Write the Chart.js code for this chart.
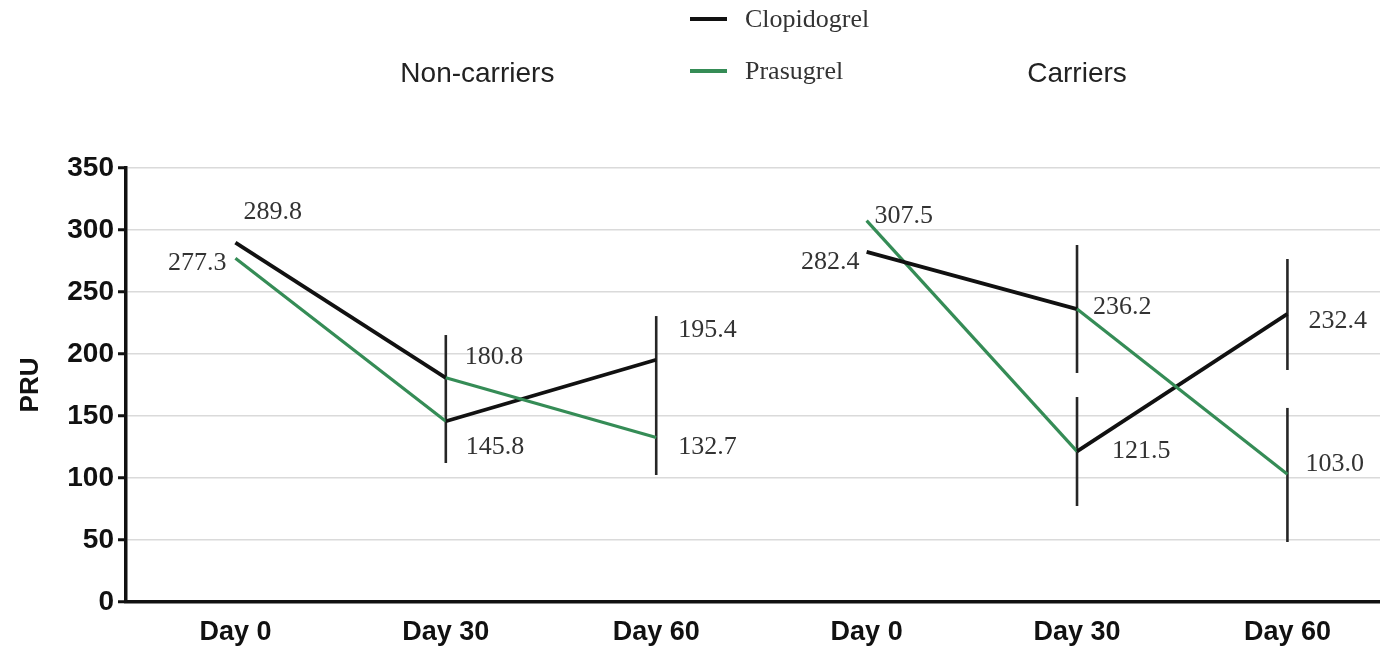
<!DOCTYPE html>
<html>
<head>
<meta charset="utf-8">
<script src="https://cdn.jsdelivr.net/npm/chart.js@4.4.1/dist/chart.umd.min.js"></script>
<style>
  html, body { margin: 0; padding: 0; background: #ffffff; }
  #wrap { width: 1380px; height: 648px; }
</style>
</head>
<body>
<div id="wrap"><canvas id="chart" width="1380" height="648"></canvas></div>
<script>
// Time points, two patient groups side by side
const days = ['Day 0', 'Day 30', 'Day 60', 'Day 0', 'Day 30', 'Day 60'];
const groups = ['Non-carriers', 'Carriers'];

// Series shown in the legend
const seriesNames = ['Clopidogrel', 'Prasugrel'];
const seriesColors = ['#111111', '#358c56'];

// PRU values along each drawn trace (Day 0, Day 30, Day 60 for each group).
// A trace keeps its colour from Day 0 to Day 30 and switches series for Day 30 to Day 60.
const traceA = [289.8, 180.8, 132.7, 282.4, 236.2, 103.0];
const traceB = [277.3, 145.8, 195.4, 307.5, 121.5, 232.4];
const traceASeries = ['Clopidogrel', 'Prasugrel'];
const traceBSeries = ['Prasugrel', 'Clopidogrel'];

// Vertical error bars (time-point index, low, high)
const errorBarAt = [1, 2, 4, 4, 5, 5];
const errorBarLow = [112.1, 102.4, 184.7, 77.4, 187.1, 48.4];
const errorBarHigh = [215.3, 230.6, 287.9, 165.3, 276.6, 156.5];

// Y axis
const yMin = 0, yMax = 350, yStep = 50;

// Value label placement (pixel offset from the point, text alignment)
const labelStyleA = [[8, -30, 'left'], [19, -21, 'left'], [22, 10, 'left'], [-7, 10, 'right'], [16, -2, 'left'], [18, -10, 'left']];
const labelStyleB = [[-9, 5, 'right'], [20, 26, 'left'], [22, -30, 'left'], [8, -5, 'left'], [35, 0, 'left'], [21, 7, 'left']];
const groupTitleAt = [1.15, 4.0];

function colorOf(name) { return seriesColors[seriesNames.indexOf(name)]; }

function traceDataset(values, legs) {
  return {
    data: values.map((v, i) => ({ x: i, y: v })),
    pointRadius: 0,
    pointHoverRadius: 0,
    tension: 0,
    borderColor: colorOf(legs[0]),
    borderWidth: 3.5,
    borderJoinStyle: 'miter',
    segment: {
      borderColor: ctx => {
        const leg = ctx.p0DataIndex % 3;
        return leg === 2 ? 'rgba(0,0,0,0)' : colorOf(legs[leg]);
      },
      borderWidth: ctx => {
        const leg = ctx.p0DataIndex % 3;
        return leg === 2 ? 0 : (legs[leg] === 'Clopidogrel' ? 3.8 : 3.2);
      }
    }
  };
}

const decorations = {
  id: 'decorations',
  beforeDatasetsDraw(chart) {
    const { ctx, scales: { x, y } } = chart;
    ctx.save();
    ctx.strokeStyle = '#262626';
    ctx.lineWidth = 2.6;
    errorBarAt.forEach((d, i) => {
      const px = x.getPixelForValue(d);
      ctx.beginPath();
      ctx.moveTo(px, y.getPixelForValue(errorBarLow[i]));
      ctx.lineTo(px, y.getPixelForValue(errorBarHigh[i]));
      ctx.stroke();
    });
    ctx.restore();
  },
  afterDatasetsDraw(chart) {
    const { ctx, scales: { x, y } } = chart;
    ctx.save();

    // Value labels next to the points
    ctx.font = '26px "Liberation Serif", "Times New Roman", serif';
    ctx.fillStyle = '#333333';
    ctx.textBaseline = 'middle';
    const drawLabels = (values, styles) => {
      values.forEach((v, i) => {
        const [dx, dy, align] = styles[i];
        ctx.textAlign = align;
        ctx.fillText(v.toFixed(1), x.getPixelForValue(i) + dx, y.getPixelForValue(v) + dy);
      });
    };
    drawLabels(traceA, labelStyleA);
    drawLabels(traceB, labelStyleB);

    // Group titles
    ctx.font = '28px "Liberation Sans", Arial, sans-serif';
    ctx.fillStyle = '#222222';
    ctx.textAlign = 'center';
    groups.forEach((g, i) => {
      ctx.fillText(g, x.getPixelForValue(groupTitleAt[i]), 74);
    });

    // Legend
    const legendRows = [19, 71];
    seriesNames.forEach((name, i) => {
      ctx.strokeStyle = seriesColors[i];
      ctx.lineWidth = 4;
      ctx.beginPath();
      ctx.moveTo(690, legendRows[i]);
      ctx.lineTo(727, legendRows[i]);
      ctx.stroke();
      ctx.font = '26px "Liberation Serif", "Times New Roman", serif';
      ctx.fillStyle = '#333333';
      ctx.textAlign = 'left';
      ctx.fillText(name, 745, legendRows[i] + 1);
    });

    ctx.restore();
  }
};

new Chart(document.getElementById('chart'), {
  type: 'line',
  data: {
    datasets: [traceDataset(traceA, traceASeries), traceDataset(traceB, traceBSeries)]
  },
  options: {
    responsive: false,
    animation: false,
    devicePixelRatio: 1,
    layout: { padding: { top: 168, right: 0, bottom: 0, left: 0 } },
    plugins: { legend: { display: false }, tooltip: { enabled: false } },
    scales: {
      x: {
        type: 'linear',
        min: -0.52,
        max: 5.44,
        afterBuildTicks: scale => { scale.ticks = days.map((_, i) => ({ value: i })); },
        afterFit: scale => { scale.height = 46; },
        grid: { display: false, drawTicks: false },
        border: { display: true, color: '#111111', width: 3.5 },
        ticks: {
          autoSkip: false,
          maxRotation: 0,
          padding: 14,
          color: '#111111',
          font: { family: '"Liberation Sans", Arial, sans-serif', size: 27, weight: 'bold' },
          callback: value => days[Math.round(value)]
        }
      },
      y: {
        min: yMin,
        max: yMax,
        afterFit: scale => { scale.width = 126; },
        grid: {
          color: '#dadada',
          lineWidth: 1.5,
          drawTicks: true,
          tickLength: 8,
          tickColor: '#111111',
          tickWidth: 3
        },
        border: { display: true, color: '#111111', width: 3.5 },
        ticks: {
          stepSize: yStep,
          padding: 4,
          color: '#111111',
          font: { family: '"Liberation Sans", Arial, sans-serif', size: 28, weight: 'bold' }
        },
        title: {
          display: true,
          text: 'PRU',
          color: '#111111',
          padding: { top: 15, bottom: 0 },
          font: { family: '"Liberation Sans", Arial, sans-serif', size: 26, weight: 'bold' }
        }
      }
    }
  },
  plugins: [decorations]
});
</script>
</body>
</html>
